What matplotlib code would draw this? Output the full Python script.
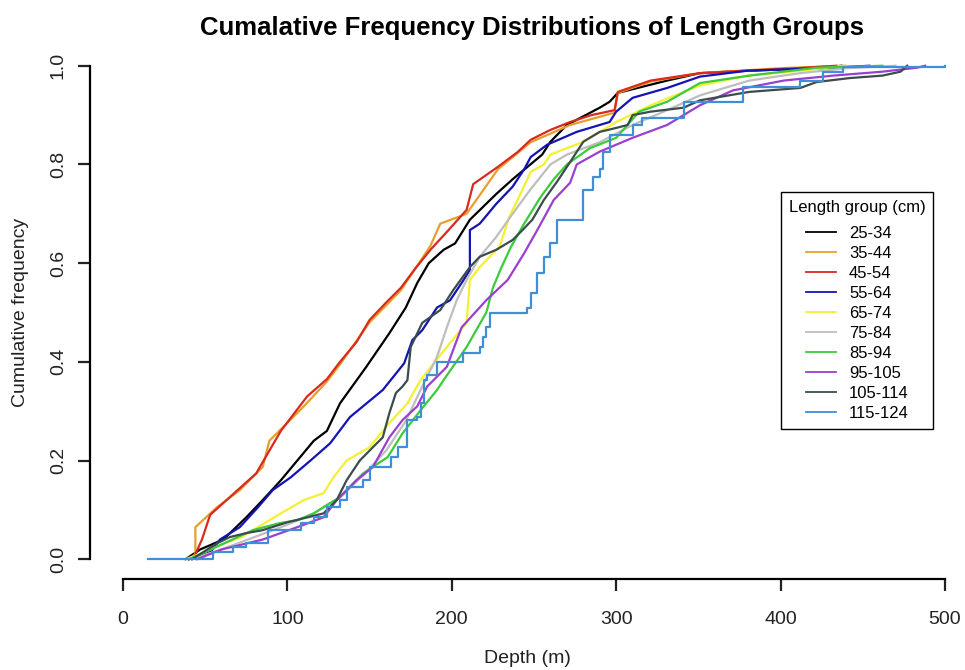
import numpy as np
import matplotlib
matplotlib.use("Agg")
import matplotlib.pyplot as plt

plt.rcParams['font.family'] = ['Liberation Sans', 'DejaVu Sans']

## cumulative frequency by depth (m), one pair per length group
d_25_34 = [38, 47, 61, 75, 85, 96, 106, 116, 124, 132, 148, 162, 172, 179, 186, 195, 202, 211, 227, 237,
           246, 255, 260, 270, 290, 296, 301, 331, 351, 380, 425, 437]
f_25_34 = [0.0, 0.02, 0.04, 0.085, 0.12, 0.16, 0.2, 0.24, 0.26, 0.316, 0.39, 0.458, 0.51, 0.56, 0.6, 0.627, 0.64, 0.688, 0.74, 0.77,
           0.795, 0.82, 0.846, 0.88, 0.915, 0.927, 0.945, 0.97, 0.985, 0.99, 0.995, 1.0]

d_35_44 = [40, 44, 44, 57, 71, 85, 89, 95, 110, 124, 132, 150, 169, 187, 193, 209, 228, 248, 272, 299, 301, 321, 351, 400, 439]
f_35_44 = [0.0, 0.01, 0.065, 0.105, 0.14, 0.187, 0.24, 0.26, 0.31, 0.36, 0.395, 0.48, 0.545, 0.635, 0.68, 0.70, 0.79, 0.845, 0.88,
           0.905, 0.945, 0.968, 0.985, 0.995, 1.0]

d_45_54 = [40, 44, 48, 53, 65, 81, 89, 96, 112, 124, 132, 142, 150, 160, 169, 178, 187, 198, 209, 213, 228, 240, 248, 260, 272,
           285, 299, 301, 321, 351, 380, 410, 434]
f_45_54 = [0.0, 0.01, 0.04, 0.09, 0.126, 0.174, 0.22, 0.26, 0.33, 0.365, 0.40, 0.44, 0.485, 0.52, 0.55, 0.59, 0.627, 0.667, 0.708,
           0.76, 0.795, 0.825, 0.85, 0.87, 0.886, 0.90, 0.91, 0.947, 0.97, 0.985, 0.99, 0.995, 1.0]

d_55_64 = [40, 54, 59, 71, 82, 91, 102, 114, 126, 138, 158, 171, 176, 182, 191, 199, 206, 211, 211, 217, 227, 237, 244, 248,
           258, 276, 296, 300, 310, 331, 351, 380, 432, 454]
f_55_64 = [0.0, 0.018, 0.04, 0.065, 0.105, 0.14, 0.166, 0.2, 0.235, 0.288, 0.343, 0.397, 0.444, 0.464, 0.51, 0.525, 0.56, 0.586,
           0.667, 0.68, 0.72, 0.755, 0.79, 0.815, 0.84, 0.866, 0.886, 0.907, 0.935, 0.955, 0.978, 0.99, 0.996, 1.0]

d_65_74 = [38, 50, 60, 72, 82, 96, 110, 122, 128, 136, 150, 162, 173, 181, 194, 209, 211, 217, 229, 235, 242, 248, 256, 260,
           280, 300, 321, 341, 351, 380, 412, 440]
f_65_74 = [0.0, 0.015, 0.03, 0.045, 0.065, 0.093, 0.12, 0.134, 0.166, 0.2, 0.227, 0.276, 0.316, 0.363, 0.418, 0.479, 0.566,
           0.592, 0.633, 0.694, 0.742, 0.785, 0.80, 0.82, 0.846, 0.886, 0.92, 0.947, 0.96, 0.98, 0.99, 1.0]

d_75_84 = [42, 60, 80, 100, 116, 132, 146, 160, 172, 182, 191, 197, 203, 209, 217, 227, 237, 248, 260, 270, 290, 310, 331,
           351, 381, 412, 440, 470]
f_75_84 = [0.0, 0.02, 0.045, 0.07, 0.093, 0.125, 0.17, 0.22, 0.28, 0.35, 0.41, 0.47, 0.525, 0.566, 0.613, 0.653, 0.70, 0.75,
           0.80, 0.82, 0.845, 0.88, 0.91, 0.94, 0.97, 0.985, 0.995, 1.0]

d_85_94 = [40, 60, 79, 95, 106, 116, 126, 132, 146, 161, 170, 181, 191, 195, 209, 221, 225, 230, 236, 244, 254, 262, 270, 284,
           300, 314, 331, 351, 381, 422, 462]
f_85_94 = [0.0, 0.03, 0.059, 0.073, 0.079, 0.093, 0.114, 0.126, 0.174, 0.207, 0.255, 0.302, 0.343, 0.363, 0.43, 0.50, 0.55,
           0.59, 0.633, 0.68, 0.734, 0.77, 0.80, 0.833, 0.854, 0.907, 0.927, 0.965, 0.98, 0.996, 1.0]

d_95_105 = [45, 60, 85, 106, 122, 130, 142, 152, 162, 170, 179, 185, 197, 206, 221, 234, 244, 252, 262, 272, 276, 290, 310,
            331, 351, 371, 402, 432, 462, 483, 488]
f_95_105 = [0.0, 0.02, 0.04, 0.065, 0.085, 0.12, 0.16, 0.187, 0.247, 0.282, 0.31, 0.35, 0.39, 0.47, 0.525, 0.566, 0.62, 0.667,
            0.728, 0.763, 0.80, 0.826, 0.854, 0.88, 0.92, 0.95, 0.97, 0.98, 0.988, 0.996, 1.0]

d_105_114 = [42, 57, 65, 75, 85, 100, 122, 130, 136, 144, 152, 158, 162, 166, 170, 173, 175, 182, 193, 201, 211, 217, 227, 237,
             243, 249, 256, 264, 272, 280, 290, 300, 307, 310, 321, 341, 351, 381, 412, 422, 442, 462, 473, 477]
f_105_114 = [0.0, 0.032, 0.045, 0.053, 0.059, 0.075, 0.093, 0.12, 0.16, 0.2, 0.227, 0.247, 0.296, 0.337, 0.35, 0.363, 0.43,
             0.479, 0.505, 0.546, 0.592, 0.613, 0.627, 0.647, 0.667, 0.688, 0.728, 0.765, 0.805, 0.846, 0.866, 0.874, 0.88,
             0.9, 0.907, 0.915, 0.93, 0.947, 0.955, 0.967, 0.975, 0.98, 0.988, 1.0]

d_115_124 = [15, 55, 67, 75, 88, 88, 108, 116, 124, 132, 136, 146, 150, 163, 167, 173, 173, 179, 181, 183, 185, 191, 191, 207,
             217, 219, 221, 223, 246, 248, 252, 256, 260, 264, 280, 286, 290, 292, 296, 310, 316, 341, 377, 412, 426, 438, 500]
f_115_124 = [0.0, 0.014, 0.024, 0.032, 0.045, 0.059, 0.073, 0.085, 0.105, 0.12, 0.146, 0.16, 0.187, 0.207, 0.227, 0.262, 0.282,
             0.288, 0.316, 0.363, 0.373, 0.377, 0.40, 0.418, 0.43, 0.45, 0.47, 0.5, 0.51, 0.54, 0.58, 0.613, 0.64, 0.688,
             0.748, 0.775, 0.79, 0.826, 0.86, 0.88, 0.895, 0.927, 0.957, 0.97, 0.988, 0.998, 1.0]

groups = ['25-34', '35-44', '45-54', '55-64', '65-74', '75-84', '85-94', '95-105', '105-114', '115-124']
depths = [d_25_34, d_35_44, d_45_54, d_55_64, d_65_74, d_75_84, d_85_94, d_95_105, d_105_114, d_115_124]
freqs = [f_25_34, f_35_44, f_45_54, f_55_64, f_65_74, f_75_84, f_85_94, f_95_105, f_105_114, f_115_124]
colors = ['black', '#E69F2E', '#D92A1E', '#1414B4', '#F5F032', '#BEBEBE', '#3CCB3C', '#9B3FD0', '#3C4C4C', '#3E8FD8']
#only the largest group is clearly a staircase, the rest have dense small steps
steps = [False]*9 + [True]

W, H = 965, 670
fig = plt.figure(figsize=(W/100, H/100), dpi=100)
ax = fig.add_axes([90/W, (H-579)/H, (W-90)/W, (579-46)/H])

for d, f, c, g, st in zip(depths, freqs, colors, groups, steps):
  ax.plot(d, f, drawstyle='steps-post' if st else 'default', color=c, lw=1.6, label=g)

## R base-graphics look: detached axes, outward ticks
ax.set_xlim(-20.1, 512.2)
ax.set_ylim(-0.04, 1.04)
for s in ['top', 'right']:
  ax.spines[s].set_visible(False)
ax.spines['left'].set_bounds(0, 1)
ax.spines['bottom'].set_bounds(0, 500)
ax.spines['left'].set_linewidth(1.6)
ax.spines['bottom'].set_linewidth(1.6)
ax.set_xticks([0, 100, 200, 300, 400, 500])
ax.set_yticks([0.0, 0.2, 0.4, 0.6, 0.8, 1.0])
ax.set_yticklabels(['0.0', '0.2', '0.4', '0.6', '0.8', '1.0'], rotation=90, va='center')
ax.tick_params(direction='out', length=8.6, width=1.6, labelsize=14, colors='#222222')
ax.tick_params(axis='x', pad=14.5)
ax.tick_params(axis='y', pad=8)

ax.set_xlabel('Depth (m)', fontsize=14, labelpad=15.5, color='#222222')
ax.set_ylabel('Cumulative frequency', fontsize=14, labelpad=15, color='#222222')
fig.text(532/W, 1-28/H, 'Cumalative Frequency Distributions of Length Groups', ha='center', va='center',
         fontsize=18.5, fontweight='bold')

leg = ax.legend(title='Length group (cm)', loc='upper left', bbox_to_anchor=(781/W, 1-192/H),
                bbox_transform=fig.transFigure, borderaxespad=0, fontsize=12, title_fontsize=12,
                fancybox=False, edgecolor='black', framealpha=1, handlelength=1.8, handletextpad=0.8,
                labelspacing=0.3, borderpad=0.47)
leg._legend_box.sep = 8  # more room under the legend title, like R's legend()
leg.get_frame().set_linewidth(1.0)
for line in leg.get_lines():
  line.set_linewidth(1.3)

fig.savefig('out.png', dpi=100)
